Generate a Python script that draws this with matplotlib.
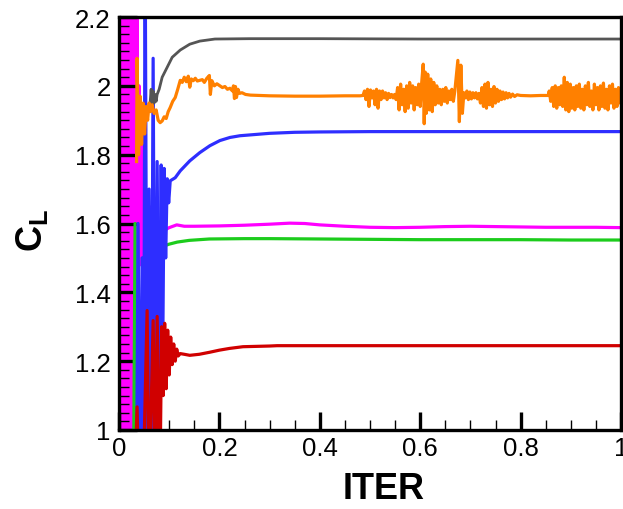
import matplotlib
matplotlib.use("Agg")
import matplotlib.pyplot as plt
from matplotlib.ticker import MultipleLocator

plt.rcParams['font.family'] = ['Liberation Sans', 'DejaVu Sans']
plt.rcParams['mathtext.fontset'] = 'custom'
plt.rcParams['mathtext.rm'] = 'Liberation Sans'
plt.rcParams['mathtext.bf'] = 'Liberation Sans:bold'

# ---------------- data ----------------
x_ticks = [0, 0.2, 0.4, 0.6, 0.8, 1.0]
x_tick_labels = ["0", "0.2", "0.4", "0.6", "0.8", "1"]
y_ticks = [1.0, 1.2, 1.4, 1.6, 1.8, 2.0, 2.2]
y_tick_labels = ["1", "1.2", "1.4", "1.6", "1.8", "2", "2.2"]

# magenta
x_magenta = [0.000, 0.002, 0.004, 0.006, 0.008, 0.010, 0.012, 0.014, 0.016, 0.018,
             0.020, 0.022, 0.024, 0.026, 0.028, 0.030, 0.032, 0.034,
             0.036, 0.038, 0.040, 0.042, 0.044, 0.046, 0.048, 0.050, 0.052, 0.054,
             0.056, 0.058, 0.060, 0.062, 0.066, 0.072, 0.080, 0.090, 0.100, 0.115,
             0.130, 0.150, 0.200, 0.250, 0.300, 0.340, 0.370, 0.400, 0.450, 0.500,
             0.550, 0.600, 0.650, 0.700, 0.750, 0.800, 0.850, 0.900, 0.950, 1.000]
y_magenta = [2.6, 0.6, 2.6, 0.6, 2.6, 0.6, 2.6, 0.6, 2.6, 0.6,
             2.6, 0.6, 2.6, 0.6, 2.6, 0.6, 2.6, 0.8,
             2.25, 1.45, 2.0, 1.48, 1.85, 1.50, 1.78, 1.52, 1.72, 1.53,
             1.68, 1.55, 1.65, 1.56, 1.545, 1.55, 1.565, 1.58, 1.588, 1.596,
             1.592, 1.592, 1.593, 1.595, 1.598, 1.601, 1.600, 1.596, 1.592, 1.589,
             1.588, 1.589, 1.591, 1.592, 1.591, 1.590, 1.589, 1.589, 1.589, 1.588]

# green
x_green = [0.028, 0.032, 0.036, 0.042, 0.046, 0.050, 0.053, 0.056, 0.059,
           0.062, 0.066, 0.070, 0.073, 0.076, 0.088,
           0.100, 0.116, 0.140, 0.180, 0.250, 0.300, 0.400, 0.500, 0.600, 0.700,
           0.800, 0.900, 1.000]
y_green = [0.6, 1.60, 0.6, 1.0, 0.7, 1.50, 0.8, 1.48, 0.9,
           1.45, 1.2, 1.52, 1.50, 1.528, 1.534,
           1.540, 1.546, 1.551, 1.555, 1.556, 1.556, 1.555, 1.554, 1.553, 1.553,
           1.553, 1.552, 1.552]

# blue
x_blue = [0.034, 0.038, 0.042, 0.046, 0.049, 0.052, 0.056, 0.060, 0.064, 0.068,
          0.072, 0.076, 0.080, 0.084, 0.087, 0.090, 0.093, 0.096, 0.099, 0.102,
          0.112, 0.122, 0.141, 0.161, 0.181, 0.201, 0.221, 0.241, 0.300, 0.350,
          0.400, 0.500, 0.600, 0.700, 0.800, 0.900, 1.000]
y_blue = [0.6, 1.6, 0.7, 1.5, 0.8, 2.45, 0.9, 1.7, 0.8, 2.08,
          0.75, 1.78, 0.95, 1.77, 1.2, 1.76, 1.5, 1.73, 1.66, 1.724,
          1.733, 1.753, 1.782, 1.806, 1.826, 1.841, 1.850, 1.855, 1.862, 1.865,
          1.866, 1.867, 1.867, 1.867, 1.867, 1.867, 1.867]

# red
x_red = [0.030, 0.036, 0.040, 0.046, 0.056, 0.060, 0.068, 0.072, 0.076,
         0.080, 0.082, 0.085, 0.088, 0.091, 0.094, 0.097, 0.100, 0.103, 0.106,
         0.109, 0.112, 0.115, 0.118, 0.122, 0.130, 0.141, 0.160, 0.181, 0.200,
         0.220, 0.247, 0.300, 0.315, 0.400, 0.500, 0.600, 0.700, 0.800, 0.900,
         1.000]
y_red = [0.8, 1.067, 0.8, 0.7, 1.347, 0.8, 1.318, 0.85, 1.33,
         0.95, 0.9, 1.30, 1.10, 1.31, 1.12, 1.29, 1.16, 1.27, 1.19,
         1.25, 1.20, 1.235, 1.215, 1.222, 1.220, 1.217, 1.220, 1.226, 1.232,
         1.237, 1.242, 1.244, 1.245, 1.245, 1.245, 1.245, 1.245, 1.245, 1.245,
         1.245]

# gray
x_gray = [0.062, 0.064, 0.066, 0.068, 0.070, 0.072, 0.074, 0.076, 0.080, 0.086,
          0.096, 0.106, 0.122, 0.141, 0.161, 0.191, 0.260, 0.400, 0.600, 0.800,
          1.000]
y_gray = [1.95, 1.99, 1.94, 1.985, 1.95, 1.975, 1.955, 1.975, 1.99, 2.025,
          2.054, 2.083, 2.104, 2.121, 2.130, 2.136, 2.137, 2.137, 2.136, 2.136,
          2.136]

# orange
x_orange = [0.035, 0.036, 0.039, 0.042, 0.045,
            0.048, 0.051, 0.054, 0.057, 0.060, 0.063, 0.066, 0.070, 0.074, 0.078,
            0.082, 0.086, 0.090, 0.094, 0.098, 0.102, 0.107, 0.112, 0.117, 0.122,
            0.126, 0.130, 0.134, 0.138, 0.141, 0.144, 0.148, 0.152, 0.156, 0.161,
            0.166, 0.170, 0.175, 0.180, 0.182, 0.185, 0.190, 0.195, 0.201, 0.206,
            0.211, 0.216, 0.221, 0.226, 0.228, 0.230, 0.232, 0.234, 0.237, 0.240,
            0.245, 0.252, 0.262, 0.280, 0.300, 0.350, 0.400, 0.450, 0.480,
            0.486, 0.489, 0.492, 0.495, 0.498, 0.501, 0.504, 0.507, 0.510, 0.513,
            0.516, 0.519, 0.522, 0.525, 0.528, 0.531, 0.534, 0.537, 0.540, 0.543,
            0.546, 0.549, 0.552, 0.555, 0.558, 0.561, 0.564, 0.567, 0.570, 0.573,
            0.576, 0.579, 0.582, 0.585, 0.588, 0.591, 0.594, 0.597, 0.600, 0.603,
            0.606, 0.608, 0.610, 0.612, 0.615, 0.618, 0.621, 0.624, 0.627, 0.630,
            0.633, 0.636, 0.639, 0.642, 0.645, 0.648, 0.651, 0.654, 0.657, 0.660,
            0.663, 0.666, 0.669, 0.675, 0.678, 0.681, 0.684, 0.687, 0.690, 0.693,
            0.696, 0.699, 0.702, 0.705, 0.708, 0.711, 0.714, 0.717, 0.720, 0.723,
            0.726, 0.729, 0.732, 0.735, 0.738, 0.741, 0.744, 0.747, 0.750, 0.753,
            0.756, 0.759, 0.762, 0.765, 0.768, 0.771, 0.774, 0.777, 0.780, 0.784,
            0.788, 0.793, 0.800, 0.820, 0.840, 0.855, 0.857, 0.860, 0.863, 0.866,
            0.869, 0.872, 0.875, 0.878, 0.881, 0.884, 0.887, 0.890, 0.893, 0.896,
            0.899, 0.902, 0.905, 0.908, 0.911, 0.914, 0.917, 0.920, 0.923, 0.926,
            0.929, 0.932, 0.935, 0.938, 0.941, 0.944, 0.947, 0.950, 0.953, 0.956,
            0.959, 0.962, 0.965, 0.968, 0.971, 0.974, 0.977, 0.980, 0.983, 0.986,
            0.989, 0.992, 0.995, 0.998, 1.000]
y_orange = [1.78, 2.08, 1.80, 1.97, 1.83,
            1.95, 1.86, 1.94, 1.90, 1.95, 1.925, 1.945, 1.92, 1.93, 1.90,
            1.893, 1.898, 1.91, 1.905, 1.925, 1.937, 1.955, 1.966, 1.99, 2.016,
            2.01, 2.025, 2.012, 2.028, 1.996, 2.02, 2.015, 2.022, 2.014, 2.016,
            2.018, 2.010, 2.022, 2.030, 1.975, 2.015, 2.0, 2.006, 2.0, 1.995,
            1.998, 1.99, 1.993, 1.985, 2.0, 1.963, 1.998, 1.966, 1.99, 1.978,
            1.98, 1.975, 1.973, 1.972, 1.971, 1.970, 1.970, 1.971, 1.971,
            1.972, 1.985, 1.96, 1.99, 1.94, 1.988, 1.965, 1.985, 1.945, 1.99,
            1.935, 1.985, 1.96, 1.985, 1.965, 1.98, 1.96, 1.978, 1.966, 1.975,
            1.965, 1.975, 1.96, 1.995, 1.93, 2.005, 1.945, 1.99, 1.925, 2.0,
            1.935, 2.01, 1.95, 2.0, 1.93, 1.995, 1.945, 2.005, 1.94, 2.01,
            2.063, 1.89, 2.04, 1.92, 2.034, 1.93, 2.02, 1.925, 2.01, 1.945,
            2.0, 1.95, 1.99, 1.945, 1.99, 1.955, 1.995, 1.95, 1.985, 1.96,
            1.99, 1.955, 1.985, 2.074, 1.896, 2.06, 1.92, 1.98, 1.965, 1.985,
            1.96, 1.982, 1.962, 1.98, 1.965, 1.98, 1.962, 1.978, 1.95, 1.995,
            1.94, 2.005, 1.935, 2.01, 1.945, 1.99, 1.94, 1.998, 1.95, 1.99,
            1.955, 1.985, 1.96, 1.982, 1.962, 1.98, 1.965, 1.978, 1.967, 1.976,
            1.969, 1.974, 1.972, 1.971, 1.972, 1.972, 1.985, 1.955, 1.995, 1.94,
            2.0, 1.935, 1.995, 1.945, 2.0, 1.94, 2.025, 1.93, 2.01, 1.925,
            2.005, 1.935, 1.995, 1.93, 2.0, 1.94, 2.005, 1.935, 1.99, 1.93,
            2.0, 1.945, 2.01, 1.94, 1.985, 1.93, 2.005, 1.945, 1.995, 1.93,
            2.0, 1.94, 2.008, 1.935, 1.99, 1.93, 2.0, 1.95, 2.005, 1.935,
            1.99, 1.94, 1.995, 1.95, 1.97]

# ---------------- figure ----------------
W, H = 623, 510
fig = plt.figure(figsize=(W / 100, H / 100), dpi=100)
ax_l, ax_r, ax_t, ax_b = 119, 621, 18, 431
ax = fig.add_axes([ax_l / W, (H - ax_b) / H, (ax_r - ax_l) / W, (ax_b - ax_t) / H])

lw = 2.3
ax.plot(x_magenta, y_magenta, color='#ff00ff', lw=lw, zorder=1)
ax.plot(x_green, y_green, color='#1ccc1c', lw=lw, zorder=2)
ax.plot(x_blue, y_blue, color='#2e2eff', lw=lw, zorder=3)
ax.plot(x_red, y_red, color='#d00000', lw=lw, zorder=4)
ax.plot(x_gray, y_gray, color='#555555', lw=2.0, zorder=5)
ax.plot(x_orange, y_orange, color='#ff8000', lw=lw, zorder=6)

ax.set_xlim(0, 1)
ax.set_ylim(1.0, 2.2)

ax.set_xticks(x_ticks)
ax.set_xticklabels(x_tick_labels)
ax.set_yticks(y_ticks)
ax.set_yticklabels(y_tick_labels)
ax.xaxis.set_minor_locator(MultipleLocator(0.05))
ax.yaxis.set_minor_locator(MultipleLocator(0.025))

ax.tick_params(which='major', direction='in', length=13, width=2.4,
               labelsize=18.5, top=False, right=False, pad=6)
ax.tick_params(which='minor', direction='in', length=7.5, width=1.0,
               top=False, right=False)
ax.tick_params(axis='x', which='major', pad=4)

for s in ax.spines.values():
    s.set_linewidth(2.4)
    s.set_zorder(10)

ax.set_xlabel('ITER', fontsize=26, fontweight='bold')
ax.xaxis.set_label_coords((384 - ax_l) / (ax_r - ax_l), -(472 - ax_b) / (ax_b - ax_t))
ax.xaxis.label.set_va('top')

fig.text(32 / W, 1 - 230 / H, r'$\mathbf{C_L}$', rotation=90, ha='center',
         va='center', fontsize=26)

fig.savefig('out.png', dpi=100)
